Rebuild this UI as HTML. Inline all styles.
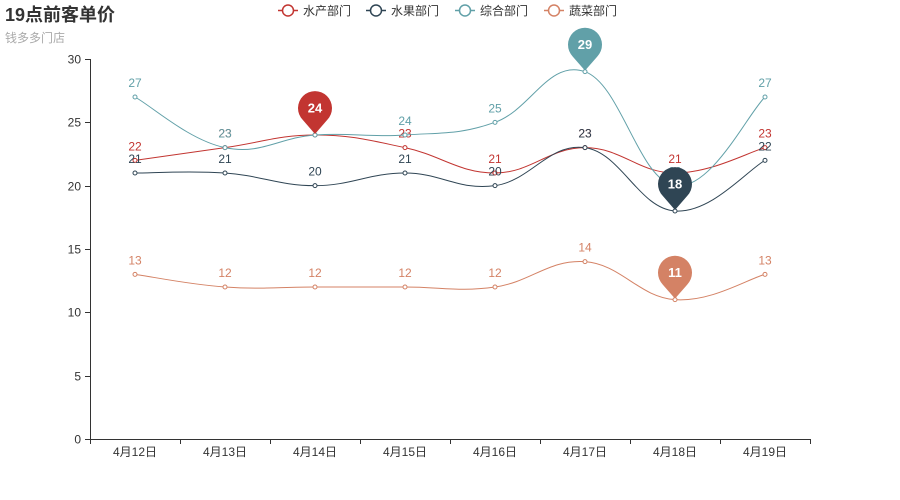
<!DOCTYPE html>
<html><head><meta charset="utf-8"><style>
body{margin:0;background:#fff;}
svg{display:block;font-family:"Liberation Sans","Noto Sans CJK SC",sans-serif;}
</style></head><body>
<svg id="c" width="900" height="500" xmlns="http://www.w3.org/2000/svg">
<text x="5" y="21" font-size="18" font-weight="bold" fill="#333">19点前客单价</text>
<text x="5" y="42" font-size="12" fill="#aaa">钱多多门店</text>
<g id="g"></g>
</svg>
<script>
var g=document.getElementById('g'),h='',pins='';
var Y0=439,S=380/30;
function y(v){return Y0-v*S}
h+='<line x1="90" y1="439.5" x2="810" y2="439.5" stroke="#333"/>';
h+='<line x1="90.5" y1="59" x2="90.5" y2="439" stroke="#333"/>';
for(var v=0;v<=30;v+=5){var yy=Math.round(y(v))+0.5;h+='<line x1="85" y1="'+yy+'" x2="90" y2="'+yy+'" stroke="#333"/><text x="81" y="'+(yy+4)+'" font-size="12" text-anchor="end" fill="#333">'+v+'</text>';}
for(var i=0;i<=8;i++){var xx=90+i*90+0.5;h+='<line x1="'+xx+'" y1="439" x2="'+xx+'" y2="444" stroke="#333"/>';}
for(var i=0;i<8;i++){h+='<text x="'+(135+i*90)+'" y="456" font-size="12" text-anchor="middle" fill="#333">4月'+(12+i)+'日</text>';}
var series=[
['水产部门','#c23531',[22,23,24,23,21,23,21,23],2],
['水果部门','#2f4554',[21,21,20,21,20,23,18,22],6],
['综合部门','#61a0a8',[27,23,24,24,25,29,20,27],5],
['蔬菜部门','#d48265',[13,12,12,12,12,14,11,13],6]];
var lx=[278,366,455,544];
series.forEach(function(s,k){
 var c=s[1],d=s[2],p=d.map(function(v,i){return [135+i*90,y(v)]});
 var path='M'+p[0][0]+','+p[0][1];
 for(var i=0;i<p.length-1;i++){
  var p0=p[Math.max(i-1,0)],p1=p[i],p2=p[i+1],p3=p[Math.min(i+2,p.length-1)];
  var t=0.2;
  var c1=[p1[0]+(p2[0]-p0[0])*t,p1[1]+(p2[1]-p0[1])*t];
  var c2=[p2[0]-(p3[0]-p1[0])*t,p2[1]-(p3[1]-p1[1])*t];
  path+=' C'+c1+' '+c2+' '+p2;
 }
 h+='<path d="'+path+'" fill="none" stroke="'+c+'" stroke-width="1"/>';
 p.forEach(function(q,i){h+='<circle cx="'+q[0]+'" cy="'+q[1]+'" r="2" fill="#fff" stroke="'+c+'"/>';
  h+='<text x="'+q[0]+'" y="'+(q[1]-10)+'" font-size="12" text-anchor="middle" fill="'+c+'">'+d[i]+'</text>';});
 var i=s[3],q=p[i],cx=q[0],cy=q[1]-27,r=17;
 pins+='<path d="M'+(cx-r*0.72)+','+(cy+r*0.7)+' A'+r+','+r+' 0 1 1 '+(cx+r*0.72)+','+(cy+r*0.7)+' L'+cx+','+(q[1]-1)+' Z" fill="'+c+'"/>';
 pins+='<text x="'+cx+'" y="'+(cy+4.5)+'" font-size="13" font-weight="bold" text-anchor="middle" fill="#fff">'+d[i]+'</text>';
 var L=lx[k];
 h+='<line x1="'+L+'" y1="10.5" x2="'+(L+20)+'" y2="10.5" stroke="'+c+'" stroke-width="1.5"/><circle cx="'+(L+10)+'" cy="10.5" r="5.5" fill="#fff" stroke="'+c+'" stroke-width="1.5"/>';
 h+='<text x="'+(L+25)+'" y="15" font-size="12" fill="#333">'+s[0]+'</text>';
});
g.innerHTML=h+pins;
</script>
</body></html>
